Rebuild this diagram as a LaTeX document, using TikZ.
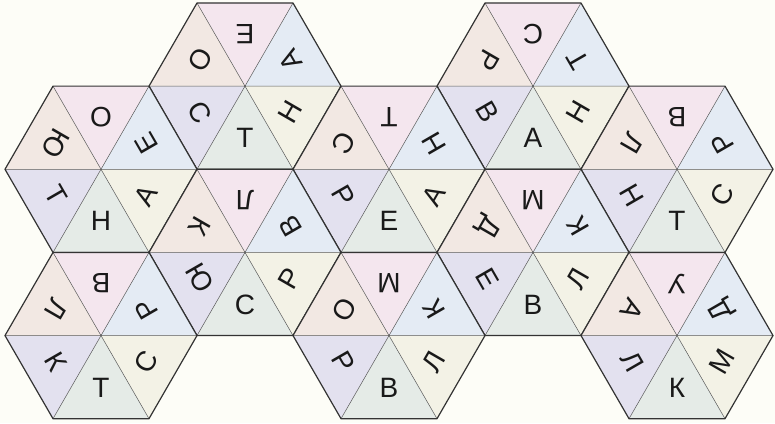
\documentclass[tikz,border=0pt]{standalone}
\usepackage{fontspec}
\setmainfont{Liberation Sans}
\usepackage{tikz}
\definecolor{paper}{HTML}{FDFDF7}
\definecolor{tonepink}{HTML}{F4E6EE}
\definecolor{tonebeige}{HTML}{F2E8E3}
\definecolor{toneblue}{HTML}{E4EBF4}
\definecolor{tonelilac}{HTML}{E3E1EF}
\definecolor{tonegreen}{HTML}{E5EBE7}
\definecolor{tonecream}{HTML}{F3F2E6}
\tikzset{
  hex_edge/.style = {draw=black!80, line width=1.2pt, line join=round},% bord de l'hexagone
  spoke_line/.style = {draw=black!65, line width=0.5pt},% aretes internes
  letter_node/.style = {inner sep=0pt, text=black!90,
    font=\fontsize{28}{28}\selectfont},% lettre
  tone_top/.style = {fill=tonepink},
  tone_ur/.style = {fill=toneblue},
  tone_lr/.style = {fill=tonecream},
  tone_bot/.style = {fill=tonegreen},
  tone_ll/.style = {fill=tonelilac},
  tone_ul/.style = {fill=tonebeige}
}
% #1 nom, #2 centre, puis lettres : haut, haut droite, bas droite, bas, bas gauche, haut gauche
\newcommand{\letterhex}[8]{%
  \coordinate (#1) at (#2);
  \fill[tone_top] (#1) -- +(48,83.14) -- +(-48,83.14) -- cycle;
  \fill[tone_ur]  (#1) -- +(96,0) -- +(48,83.14) -- cycle;
  \fill[tone_lr]  (#1) -- +(48,-83.14) -- +(96,0) -- cycle;
  \fill[tone_bot] (#1) -- +(-48,-83.14) -- +(48,-83.14) -- cycle;
  \fill[tone_ll]  (#1) -- +(-96,0) -- +(-48,-83.14) -- cycle;
  \fill[tone_ul]  (#1) -- +(-48,83.14) -- +(-96,0) -- cycle;
  \draw[spoke_line] (#1) +(-96,0) -- +(96,0) +(-48,83.14) -- +(48,-83.14)
    +(48,83.14) -- +(-48,-83.14);
  \draw[hex_edge] (#1) +(96,0) -- +(48,83.14) -- +(-48,83.14) -- +(-96,0)
    -- +(-48,-83.14) -- +(48,-83.14) -- cycle;
  \node[letter_node, rotate=180]  (#1-t)  at ([shift={(90:52)}]#1)  {#3};
  \node[letter_node, rotate=120]  (#1-ur) at ([shift={(30:52)}]#1)  {#4};
  \node[letter_node, rotate=60]   (#1-lr) at ([shift={(-30:52)}]#1) {#5};
  \node[letter_node]              (#1-b)  at ([shift={(-90:52)}]#1) {#6};
  \node[letter_node, rotate=-60]  (#1-ll) at ([shift={(210:52)}]#1) {#7};
  \node[letter_node, rotate=-120] (#1-ul) at ([shift={(150:52)}]#1) {#8};
}
\begin{document}
\begin{tikzpicture}[x=1pt, y=1pt]
  \fill[paper] (0,0) rectangle (775,423);
  \useasboundingbox (0,0) rectangle (775,423);
  % rangee du haut
  \letterhex{h1}{245,336.86}{Е}{А}{Н}{Т}{С}{О}
  \letterhex{h2}{533,336.86}{С}{Т}{Н}{А}{В}{Р}
  % deuxieme rangee
  \letterhex{h3}{101,253.72}{О}{Е}{А}{Н}{Т}{Ю}
  \letterhex{h4}{389,253.72}{Т}{Н}{А}{Е}{Р}{С}
  \letterhex{h5}{677,253.72}{В}{Р}{С}{Т}{Н}{Л}
  % troisieme rangee
  \letterhex{h6}{245,170.58}{Л}{В}{Р}{С}{Ю}{К}
  \letterhex{h7}{533,170.58}{М}{К}{Л}{В}{Е}{Д}
  % rangee du bas
  \letterhex{h8}{101,87.44}{В}{Р}{С}{Т}{К}{Л}
  \letterhex{h9}{389,87.44}{М}{К}{Л}{В}{Р}{О}
  \letterhex{h10}{677,87.44}{У}{Д}{М}{К}{Л}{А}
\end{tikzpicture}
\end{document}
